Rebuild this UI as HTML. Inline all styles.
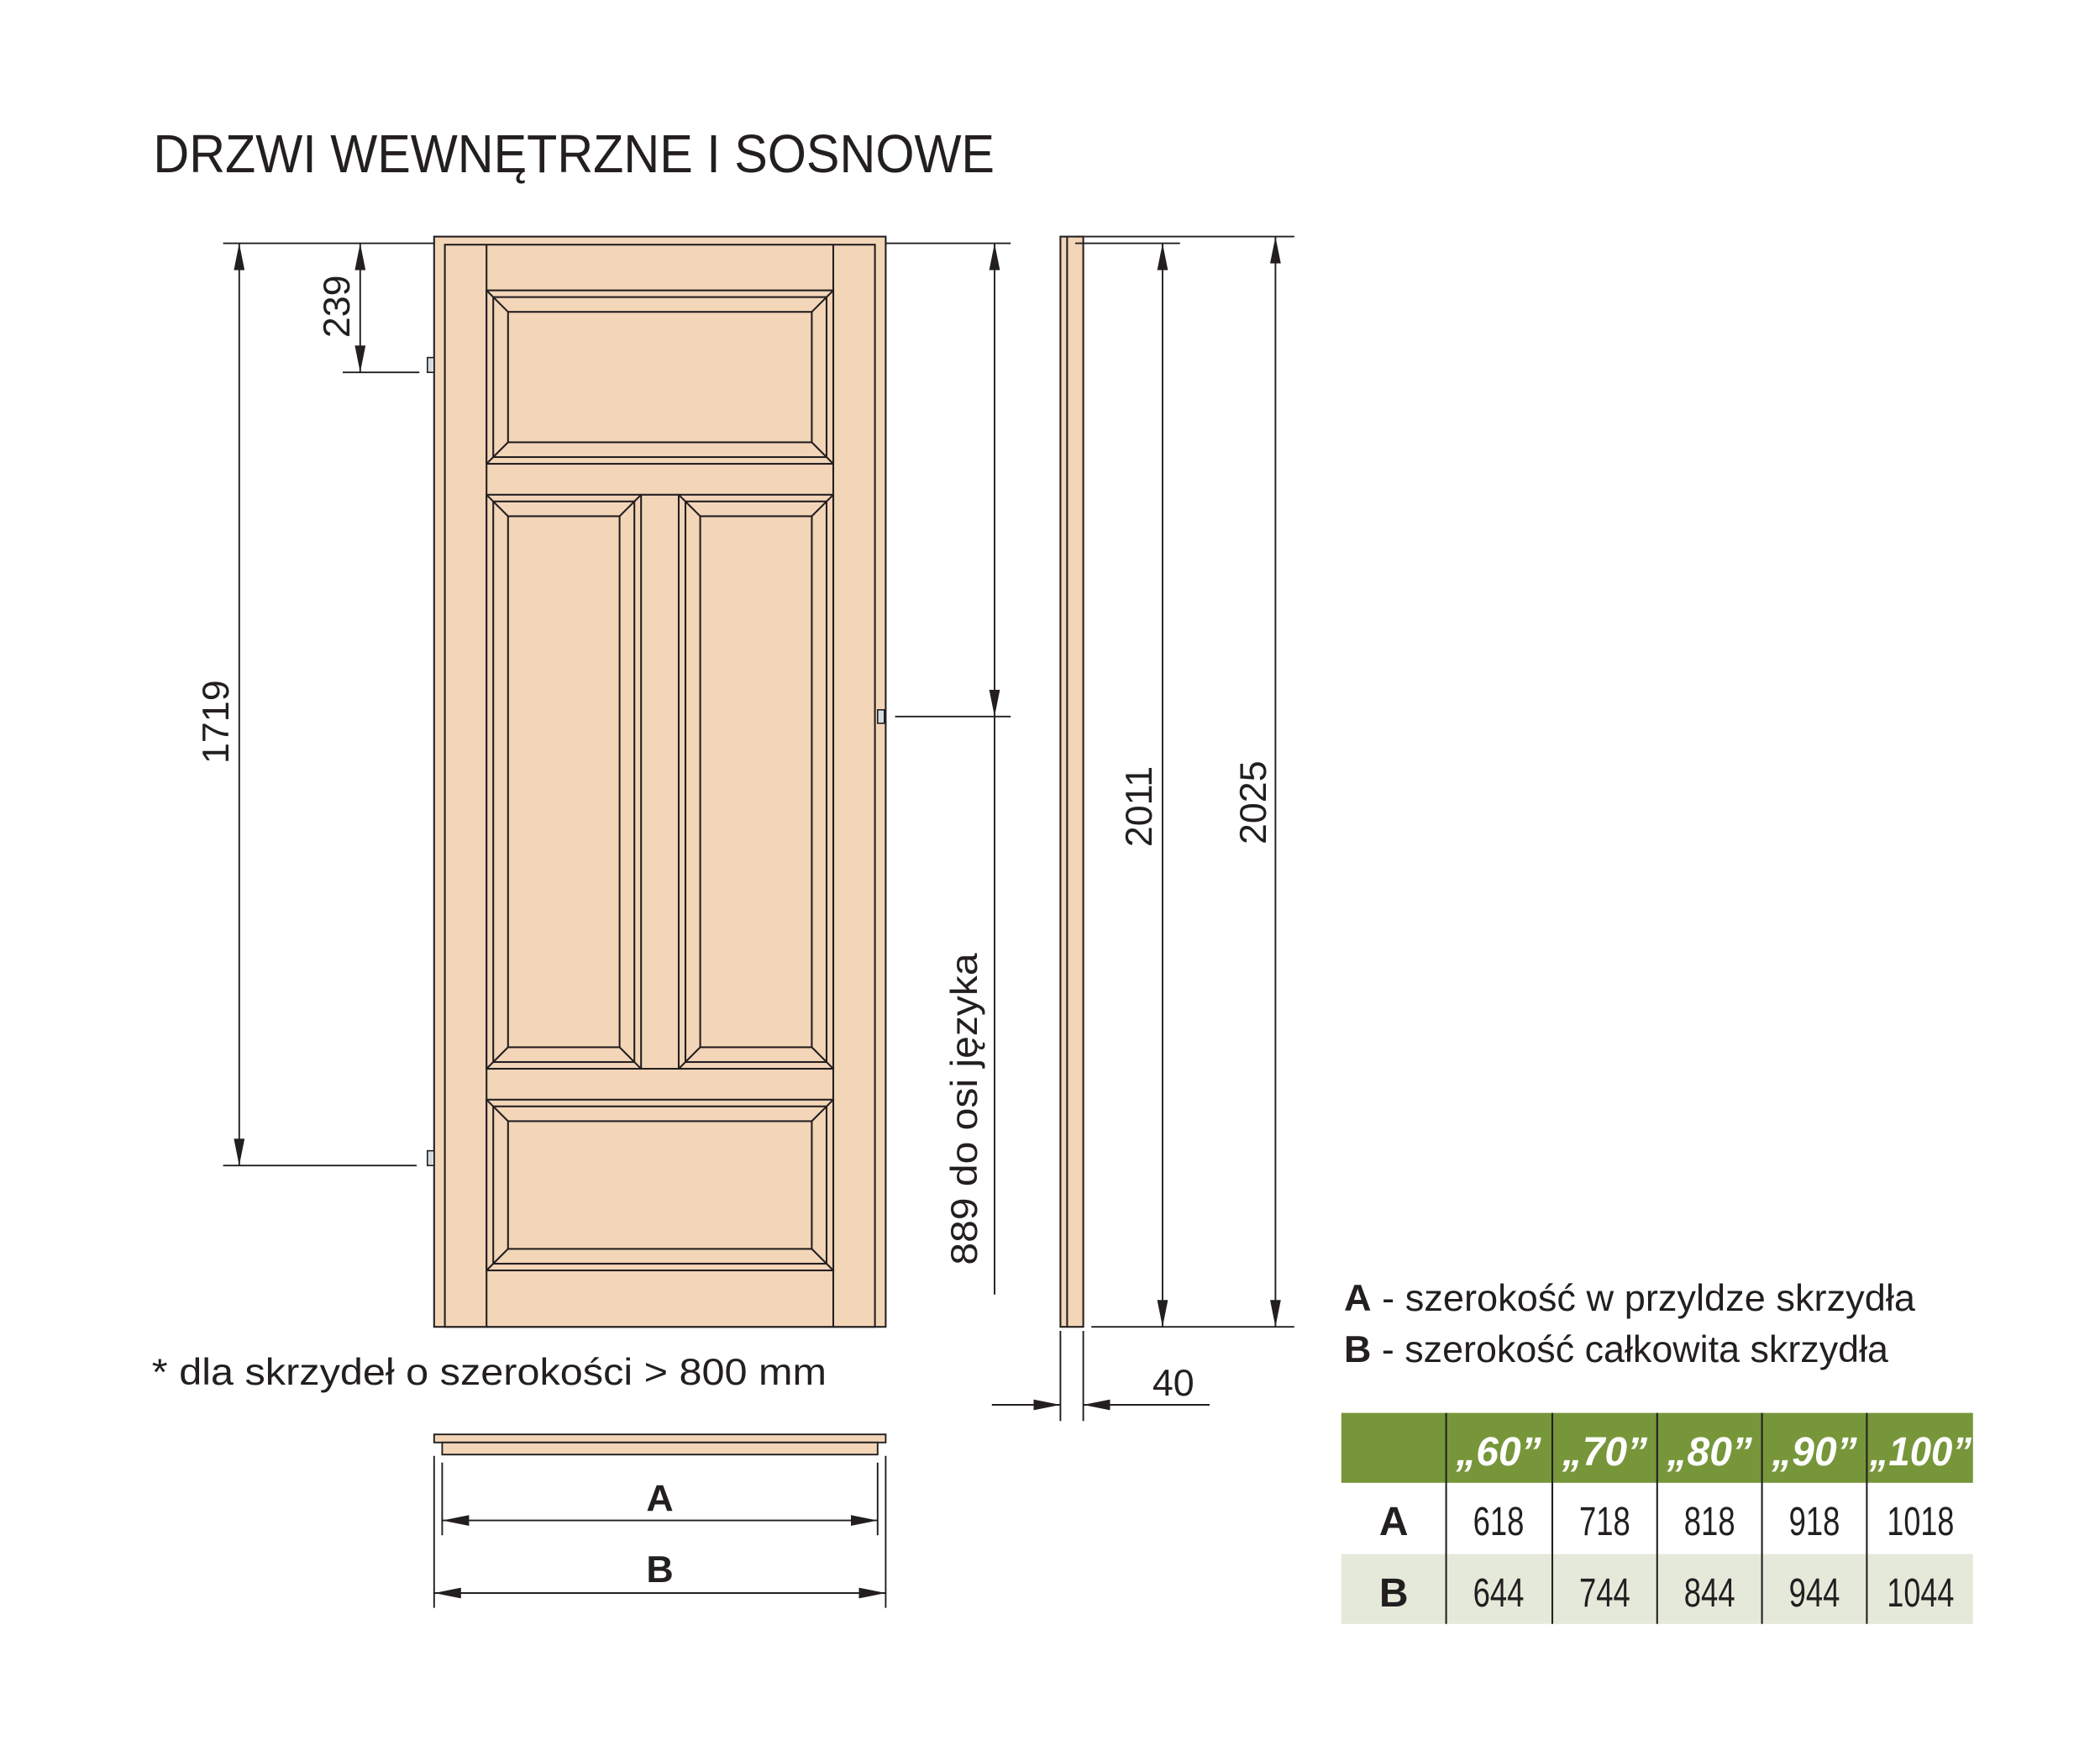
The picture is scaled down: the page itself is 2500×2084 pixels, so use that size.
<!DOCTYPE html>
<html><head><meta charset="utf-8"><style>
html,body{margin:0;padding:0;background:#fff}
svg{display:block}
text{font-family:"Liberation Sans",sans-serif;fill:#231f20}
</style></head><body>
<svg width="2500" height="2084" viewBox="0 0 1562.5 1302.5" xmlns="http://www.w3.org/2000/svg">
<defs>
<marker id="ae" viewBox="0 0 20 8" refX="20" refY="4" markerWidth="20" markerHeight="8" markerUnits="userSpaceOnUse" orient="auto"><path d="M0,0 L20,4 L0,8 Z" fill="#231f20"/></marker>
<marker id="as" viewBox="0 0 20 8" refX="0" refY="4" markerWidth="20" markerHeight="8" markerUnits="userSpaceOnUse" orient="auto"><path d="M20,0 L0,4 L20,8 Z" fill="#231f20"/></marker>
</defs>
<text x="114" y="128" font-size="40" textLength="626" lengthAdjust="spacingAndGlyphs">DRZWI WEWNĘTRZNE I SOSNOWE</text>

<g stroke="#231f20" stroke-width="1.3" fill="#f3d5b8">
<rect x="323" y="176" width="336" height="811"/>
<rect x="331" y="182" width="320" height="805"/>
<line x1="362" y1="182" x2="362" y2="987"/>
<line x1="620" y1="182" x2="620" y2="987"/>
<rect x="362" y="216" width="258" height="129"/>
<rect x="367" y="221" width="248" height="119"/>
<rect x="378" y="232" width="226" height="97"/>
<path d="M362,216L378,232M620,216L604,232M362,345L378,329M620,345L604,329" fill="none"/>
<rect x="362" y="368" width="115" height="427"/>
<rect x="367" y="373" width="105" height="417"/>
<rect x="378" y="384" width="83" height="395"/>
<path d="M362,368L378,384M477,368L461,384M362,795L378,779M477,795L461,779" fill="none"/>
<rect x="505" y="368" width="115" height="427"/>
<rect x="510" y="373" width="105" height="417"/>
<rect x="521" y="384" width="83" height="395"/>
<path d="M505,368L521,384M620,368L604,384M505,795L521,779M620,795L604,779" fill="none"/>
<line x1="477" y1="368" x2="505" y2="368"/>
<line x1="477" y1="795" x2="505" y2="795"/>
<rect x="362" y="818" width="258" height="127"/>
<rect x="367" y="823" width="248" height="117"/>
<rect x="378" y="834" width="226" height="95"/>
<path d="M362,818L378,834M620,818L604,834M362,945L378,929M620,945L604,929" fill="none"/>
</g>
<g stroke="#231f20" stroke-width="1" fill="#d6dde2">
<rect x="318" y="266" width="5" height="11"/>
<rect x="318" y="856" width="5" height="11"/>
<rect x="653" y="528" width="5" height="10"/>
</g>

<g stroke="#231f20" stroke-width="1.3" fill="#f3d5b8">
<rect x="789" y="176" width="17" height="811"/>
<line x1="794" y1="176" x2="794" y2="987"/>
</g>

<g stroke="#231f20" stroke-width="1.2" fill="none">
<line x1="166" y1="181" x2="323" y2="181"/>
<line x1="166" y1="867" x2="310" y2="867"/>
<line x1="178" y1="181" x2="178" y2="867" marker-start="url(#as)" marker-end="url(#ae)"/>
<line x1="255" y1="277" x2="312" y2="277"/>
<line x1="268" y1="181" x2="268" y2="277" marker-start="url(#as)" marker-end="url(#ae)"/>
<line x1="659" y1="181" x2="752" y2="181"/>
<line x1="666" y1="533" x2="752" y2="533"/>
<line x1="740" y1="181" x2="740" y2="533" marker-start="url(#as)" marker-end="url(#ae)"/>
<line x1="740" y1="533" x2="740" y2="963"/>
<line x1="800" y1="181" x2="878" y2="181"/>
<line x1="800" y1="176" x2="963" y2="176"/>
<line x1="812" y1="987" x2="963" y2="987"/>
<line x1="865" y1="181" x2="865" y2="987" marker-start="url(#as)" marker-end="url(#ae)"/>
<line x1="949" y1="176" x2="949" y2="987" marker-start="url(#as)" marker-end="url(#ae)"/>
<line x1="789" y1="990" x2="789" y2="1057"/>
<line x1="806" y1="990" x2="806" y2="1057"/>
<line x1="738" y1="1045" x2="789" y2="1045" marker-end="url(#ae)"/>
<line x1="900" y1="1045" x2="806" y2="1045" marker-end="url(#ae)"/>
<line x1="329" y1="1088" x2="329" y2="1142"/>
<line x1="653" y1="1088" x2="653" y2="1142"/>
<line x1="323" y1="1083" x2="323" y2="1196"/>
<line x1="659" y1="1083" x2="659" y2="1196"/>
<line x1="329" y1="1131" x2="653" y2="1131" marker-start="url(#as)" marker-end="url(#ae)"/>
<line x1="323" y1="1185" x2="659" y2="1185" marker-start="url(#as)" marker-end="url(#ae)"/>
</g>
<g stroke="#231f20" stroke-width="1.2" fill="#f3d5b8">
<rect x="323" y="1067" width="336" height="6"/>
<rect x="329" y="1073" width="324" height="9"/>
</g>

<g font-size="28">
<text transform="translate(170,537) rotate(-90)" text-anchor="middle">1719</text>
<text transform="translate(260,228) rotate(-90)" text-anchor="middle">239</text>
<text transform="translate(727,825) rotate(-90)" text-anchor="middle" textLength="232" lengthAdjust="spacingAndGlyphs">889 do osi języka</text>
<text transform="translate(857,600) rotate(-90)" text-anchor="middle">2011</text>
<text transform="translate(942,597) rotate(-90)" text-anchor="middle">2025</text>
<text x="873" y="1038" text-anchor="middle">40</text>
<text x="491" y="1124" text-anchor="middle" font-weight="bold">A</text>
<text x="491" y="1177" text-anchor="middle" font-weight="bold">B</text>
<text x="113" y="1030" textLength="502" lengthAdjust="spacingAndGlyphs">* dla skrzydeł o szerokości &gt; 800 mm</text>
<text x="1000" y="975" textLength="425" lengthAdjust="spacingAndGlyphs"><tspan font-weight="bold">A</tspan> - szerokość w przyldze skrzydła</text>
<text x="1000" y="1013" textLength="405" lengthAdjust="spacingAndGlyphs"><tspan font-weight="bold">B</tspan> - szerokość całkowita skrzydła</text>
</g>

<rect x="998" y="1051" width="470" height="52" fill="#77963a"/>
<rect x="998" y="1156" width="470" height="52" fill="#e5e9da"/>
<g stroke="#231f20" stroke-width="1.3">
<line x1="1076" y1="1051" x2="1076" y2="1208"/>
<line x1="1155" y1="1051" x2="1155" y2="1208"/>
<line x1="1233" y1="1051" x2="1233" y2="1208"/>
<line x1="1311" y1="1051" x2="1311" y2="1208"/>
<line x1="1389" y1="1051" x2="1389" y2="1208"/>
</g>
<g font-size="30" font-weight="bold" font-style="italic" text-anchor="middle">
<text x="1115" y="1090" style="fill:#fff">„60”</text>
<text x="1194" y="1090" style="fill:#fff">„70”</text>
<text x="1272" y="1090" style="fill:#fff">„80”</text>
<text x="1350" y="1090" style="fill:#fff">„90”</text>
<text x="1429" y="1090" style="fill:#fff" textLength="76" lengthAdjust="spacingAndGlyphs">„100”</text>
</g>
<g font-size="30" text-anchor="middle">
<text x="1037" y="1142" font-weight="bold">A</text>
<text x="1037" y="1195" font-weight="bold">B</text>
<g lengthAdjust="spacingAndGlyphs">
<text x="1115" y="1142" textLength="38" lengthAdjust="spacingAndGlyphs">618</text><text x="1194" y="1142" textLength="38" lengthAdjust="spacingAndGlyphs">718</text><text x="1272" y="1142" textLength="38" lengthAdjust="spacingAndGlyphs">818</text><text x="1350" y="1142" textLength="38" lengthAdjust="spacingAndGlyphs">918</text><text x="1429" y="1142" textLength="50" lengthAdjust="spacingAndGlyphs">1018</text>
<text x="1115" y="1195" textLength="38" lengthAdjust="spacingAndGlyphs">644</text><text x="1194" y="1195" textLength="38" lengthAdjust="spacingAndGlyphs">744</text><text x="1272" y="1195" textLength="38" lengthAdjust="spacingAndGlyphs">844</text><text x="1350" y="1195" textLength="38" lengthAdjust="spacingAndGlyphs">944</text><text x="1429" y="1195" textLength="50" lengthAdjust="spacingAndGlyphs">1044</text>
</g>
</g>
</svg>
</body></html>
